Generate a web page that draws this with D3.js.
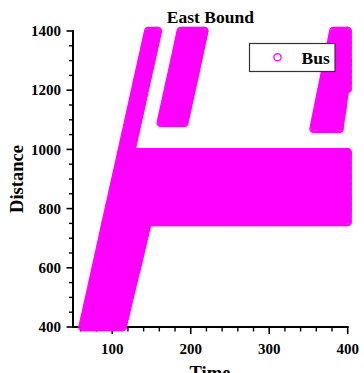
<!DOCTYPE html>
<html>
<head>
<meta charset="utf-8">
<script src="https://cdn.jsdelivr.net/npm/d3@7/dist/d3.min.js"></script>
<style>
  html, body { margin: 0; padding: 0; background: #fff; }
  svg { display: block; }
  text { font-family: "Liberation Serif", "Times New Roman", serif; font-weight: bold; fill: #000; }
</style>
</head>
<body>
<svg id="chart" width="364" height="373"></svg>
<script>
// ---- chart data ----
const chartTitle = "East Bound";
const xLabel = "Time";
const yLabel = "Distance";
const seriesName = "Bus";
const xDomain = [50, 400];
const yDomain = [400, 1400];
const xTicks = [100, 200, 300, 400];
const yTicks = [400, 600, 800, 1000, 1200, 1400];

// Bus position records, grouped by platoon.
// Each entry: [distance, first time seen, last time seen] at that distance.
const platoonLower = [
  [400, 62.0, 113.2], [500, 70.5, 122.3], [600, 78.8, 131.4],
  [700, 87.2, 140.5], [750, 91.3, 145.0]
];
const stopQueue = [
  [755, 91.7, 400], [990, 111.5, 400]
];
const platoonUpper = [
  [1000, 112.3, 124.7], [1100, 120.7, 133.1], [1200, 129.0, 141.4],
  [1300, 137.4, 149.8], [1400, 145.8, 158.2]
];
const secondPlatoon = [
  [1090, 161.7, 191.8], [1200, 170.8, 200.9], [1300, 179.1, 209.2], [1400, 187.2, 217.3]
];
const thirdPlatoon = [
  [1070, 356.4, 389.5], [1200, 366.3, 396.5], [1205, 366.7, 400],
  [1300, 374.0, 400], [1400, 381.6, 400]
];
// logging resolution of the position records
const distanceStep = 10;
const timeStep = 1.5;

// ---- layout ----
const svg = d3.select("#chart");
const x = d3.scaleLinear().domain(xDomain).range([73, 347.7]);
const y = d3.scaleLinear().domain(yDomain).range([327, 31]);
const magenta = "#ff00ff";

// expand a platoon's spans into individual position records
function expand(spans) {
  const pts = [];
  for (let i = 0; i < spans.length - 1; i++) {
    const [d0, a0, b0] = spans[i];
    const [d1, a1, b1] = spans[i + 1];
    const rows = d3.range(d0, d1, distanceStep);
    if (i === spans.length - 2) rows.push(d1);
    rows.forEach(d => {
      const f = (d - d0) / (d1 - d0);
      const t0 = a0 + (a1 - a0) * f, t1 = b0 + (b1 - b0) * f;
      const ts = d3.range(t0, t1, timeStep);
      ts.push(t1);
      ts.forEach(t => pts.push({ t, d }));
    });
  }
  return pts;
}
const records = [platoonLower, stopQueue, platoonUpper, secondPlatoon, thirdPlatoon]
  .flatMap(expand);

// ---- axes ----
const axisG = svg.append("g");
const xMinor = d3.range(60, 401, 20).filter(v => !xTicks.includes(v));
const yMinor = d3.range(450, 1401, 50).filter(v => !yTicks.includes(v));

// x axis
axisG.append("line")
  .attr("x1", x(xDomain[0]) - 1).attr("x2", x(xDomain[1]) + 1)
  .attr("y1", y(yDomain[0])).attr("y2", y(yDomain[0]))
  .attr("stroke", "#000").attr("stroke-width", 2);
axisG.selectAll(".xmaj").data(xTicks).join("line")
  .attr("x1", d => x(d)).attr("x2", d => x(d))
  .attr("y1", y(yDomain[0])).attr("y2", y(yDomain[0]) + 7)
  .attr("stroke", "#000").attr("stroke-width", 1.6);
axisG.selectAll(".xmin").data(xMinor).join("line")
  .attr("x1", d => x(d)).attr("x2", d => x(d))
  .attr("y1", y(yDomain[0])).attr("y2", y(yDomain[0]) + 4.5)
  .attr("stroke", "#000").attr("stroke-width", 1.4);
axisG.selectAll(".xlab").data(xTicks).join("text")
  .attr("x", d => x(d)).attr("y", 354)
  .attr("text-anchor", "middle").attr("font-size", 15)
  .text(d => d);

// y axis
axisG.append("line")
  .attr("x1", x(xDomain[0])).attr("x2", x(xDomain[0]))
  .attr("y1", y(yDomain[1]) - 1).attr("y2", y(yDomain[0]) + 1)
  .attr("stroke", "#000").attr("stroke-width", 2);
axisG.selectAll(".ymaj").data(yTicks).join("line")
  .attr("x1", x(xDomain[0]) - 6.5).attr("x2", x(xDomain[0]))
  .attr("y1", d => y(d)).attr("y2", d => y(d))
  .attr("stroke", "#000").attr("stroke-width", 1.6);
axisG.selectAll(".ymin").data(yMinor).join("line")
  .attr("x1", x(xDomain[0]) - 4).attr("x2", x(xDomain[0]))
  .attr("y1", d => y(d)).attr("y2", d => y(d))
  .attr("stroke", "#000").attr("stroke-width", 1.4);
axisG.selectAll(".ylab").data(yTicks).join("text")
  .attr("x", 61).attr("y", d => y(d)).attr("dy", "0.35em")
  .attr("text-anchor", "end").attr("font-size", 15)
  .text(d => d);

// titles
svg.append("text")
  .attr("x", (x.range()[0] + x.range()[1]) / 2).attr("y", 23.3)
  .attr("text-anchor", "middle").attr("font-size", 17.5)
  .text(chartTitle);
svg.append("text")
  .attr("x", 210).attr("y", 379)
  .attr("text-anchor", "middle").attr("font-size", 18.5)
  .text(xLabel);
svg.append("text")
  .attr("transform", `translate(23,${(y.range()[0] + y.range()[1]) / 2}) rotate(-90)`)
  .attr("text-anchor", "middle").attr("font-size", 18.5)
  .text(yLabel);

// ---- bus position markers ----
svg.append("g")
  .selectAll("circle").data(records).join("circle")
  .attr("cx", p => x(p.t)).attr("cy", p => y(p.d))
  .attr("r", 3.6)
  .attr("fill", "none").attr("stroke", magenta).attr("stroke-width", 1.3);

// ---- legend ----
const lg = svg.append("g");
lg.append("rect")
  .attr("x", 249.5).attr("y", 43.5).attr("width", 85.5).attr("height", 28)
  .attr("fill", "#fff").attr("stroke", "#333").attr("stroke-width", 1.2);
lg.append("circle")
  .attr("cx", 277.5).attr("cy", 57.3).attr("r", 3.6)
  .attr("fill", "none").attr("stroke", magenta).attr("stroke-width", 1.3);
lg.append("text")
  .attr("x", 301.5).attr("y", 63.5).attr("font-size", 17.5)
  .text(seriesName);
</script>
</body>
</html>
